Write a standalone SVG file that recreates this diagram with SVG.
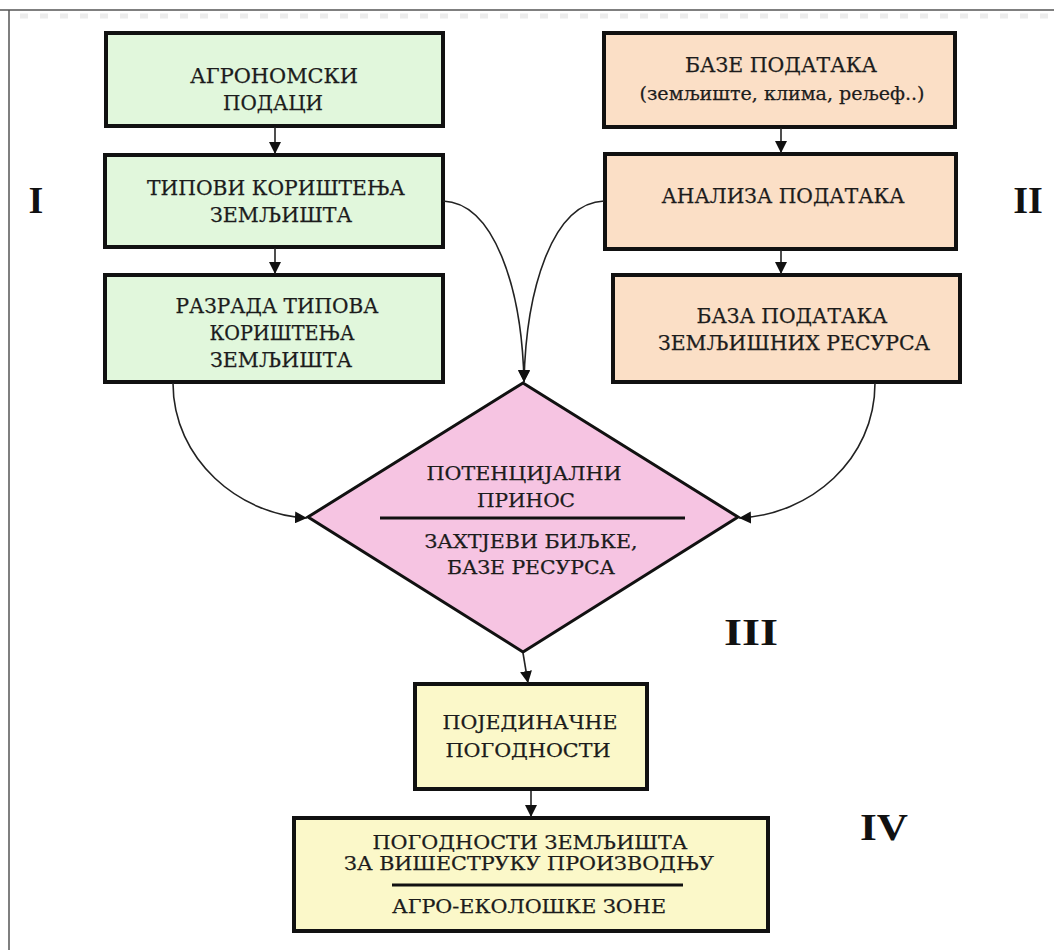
<svg xmlns="http://www.w3.org/2000/svg" width="1054" height="950" viewBox="0 0 1054 950">
  <style>
    .box { stroke: #111; stroke-width: 4; }
    .green { fill: #e1f7dc; }
    .peach { fill: #fbdfc6; }
    .pink { fill: #f6c4e2; stroke: #111; stroke-width: 3; }
    .yellow { fill: #fbf8c9; }
    .t { font-family: "DejaVu Serif", "Liberation Serif", "Noto Serif", serif; font-size: 20.5px; fill: #1c1c1c; stroke: #1c1c1c; stroke-width: 0.25; text-anchor: middle; }
    .ts { font-size: 18.5px; }
    .roman { font-family: "Liberation Serif", "Times New Roman", serif; font-size: 38px; font-weight: bold; fill: #111; text-anchor: middle; }
    .conn { fill: none; stroke: #222; stroke-width: 1.6; marker-end: url(#arrow); }
    .rule { stroke: #111; stroke-width: 3; }
  </style>
  <defs>
    <marker id="arrow" viewBox="0 0 10 10" refX="10" refY="5" markerWidth="12" markerHeight="12" markerUnits="userSpaceOnUse" orient="auto">
      <path d="M0,0 L10,5 L0,10 z" fill="#111"/>
    </marker>
  </defs>

  <rect x="0" y="0" width="1054" height="950" fill="#fff"/>

  <!-- page frame -->
  <g id="frame">
    <line x1="0" y1="10" x2="1054" y2="10" stroke="#555" stroke-width="1.5"/>
    <line x1="9" y1="10" x2="9" y2="950" stroke="#555" stroke-width="1.5"/>
    <line x1="20" y1="16" x2="1054" y2="16" stroke="#ececec" stroke-width="5" stroke-dasharray="8 12"/>
  </g>

  <!-- left column -->
  <g id="agro-data">
    <rect class="box green" x="106" y="33" width="337" height="93"/>
    <text class="t" x="274" y="83" textLength="168" lengthAdjust="spacingAndGlyphs">АГРОНОМСКИ</text>
    <text class="t" x="273" y="110" textLength="100" lengthAdjust="spacingAndGlyphs">ПОДАЦИ</text>
  </g>
  <g id="land-use-types">
    <rect class="box green" x="105" y="155" width="338" height="92"/>
    <text class="t" x="276" y="195" textLength="258" lengthAdjust="spacingAndGlyphs">ТИПОВИ КОРИШТЕЊА</text>
    <text class="t" x="281" y="222" textLength="142" lengthAdjust="spacingAndGlyphs">ЗЕМЉИШТА</text>
  </g>
  <g id="land-use-detail">
    <rect class="box green" x="105" y="275" width="338" height="107"/>
    <text class="t" x="277" y="313" textLength="203" lengthAdjust="spacingAndGlyphs">РАЗРАДА ТИПОВА</text>
    <text class="t" x="282" y="340" textLength="145" lengthAdjust="spacingAndGlyphs">КОРИШТЕЊА</text>
    <text class="t" x="281" y="367" textLength="142" lengthAdjust="spacingAndGlyphs">ЗЕМЉИШТА</text>
  </g>

  <!-- right column -->
  <g id="databases">
    <rect class="box peach" x="604" y="33" width="351" height="94"/>
    <text class="t" x="781" y="72" textLength="192" lengthAdjust="spacingAndGlyphs">БАЗЕ ПОДАТАКА</text>
    <text class="t ts" x="782" y="100" textLength="285" lengthAdjust="spacingAndGlyphs">(земљиште, клима, рељеф..)</text>
  </g>
  <g id="data-analysis">
    <rect class="box peach" x="605" y="154" width="351" height="95"/>
    <text class="t" x="783" y="203" textLength="243" lengthAdjust="spacingAndGlyphs">АНАЛИЗА ПОДАТАКА</text>
  </g>
  <g id="land-resources-db">
    <rect class="box peach" x="613" y="275" width="347" height="107"/>
    <text class="t" x="792" y="323" textLength="191" lengthAdjust="spacingAndGlyphs">БАЗА ПОДАТАКА</text>
    <text class="t" x="794" y="350" textLength="272" lengthAdjust="spacingAndGlyphs">ЗЕМЉИШНИХ РЕСУРСА</text>
  </g>

  <!-- evaluation diamond -->
  <g id="yield-diamond">
    <polygon class="pink" points="523,383 738,517 523,652 308,517"/>
    <text class="t ts" x="524" y="480" textLength="195" lengthAdjust="spacingAndGlyphs">ПОТЕНЦИЈАЛНИ</text>
    <text class="t ts" x="526" y="507" textLength="98" lengthAdjust="spacingAndGlyphs">ПРИНОС</text>
    <line class="rule" x1="380" y1="518" x2="685" y2="518"/>
    <text class="t ts" x="531" y="548" textLength="213" lengthAdjust="spacingAndGlyphs">ЗАХТЈЕВИ БИЉКЕ,</text>
    <text class="t ts" x="531" y="574" textLength="168" lengthAdjust="spacingAndGlyphs">БАЗЕ РЕСУРСА</text>
  </g>

  <!-- results -->
  <g id="single-suitability">
    <rect class="box yellow" x="415" y="684" width="232" height="105"/>
    <text class="t ts" x="530" y="729" textLength="175" lengthAdjust="spacingAndGlyphs">ПОЈЕДИНАЧНЕ</text>
    <text class="t ts" x="528" y="757" textLength="165" lengthAdjust="spacingAndGlyphs">ПОГОДНОСТИ</text>
  </g>
  <g id="multi-suitability">
    <rect class="box yellow" x="294" y="818" width="474" height="113"/>
    <text class="t ts" x="530" y="849" textLength="315" lengthAdjust="spacingAndGlyphs">ПОГОДНОСТИ ЗЕМЉИШТА</text>
    <text class="t ts" x="529" y="870" textLength="370" lengthAdjust="spacingAndGlyphs">ЗА ВИШЕСТРУКУ ПРОИЗВОДЊУ</text>
    <line class="rule" x1="392" y1="885" x2="683" y2="885"/>
    <text class="t ts" x="529" y="913" textLength="274" lengthAdjust="spacingAndGlyphs">АГРО-ЕКОЛОШКЕ ЗОНЕ</text>
  </g>

  <!-- stage numerals -->
  <g id="stage-labels">
    <text class="roman" x="36" y="213">I</text>
    <text class="roman" x="1028" y="213">II</text>
    <text class="roman" x="751" y="645" textLength="54" lengthAdjust="spacingAndGlyphs">III</text>
    <text class="roman" x="884" y="840" textLength="48" lengthAdjust="spacingAndGlyphs">IV</text>
  </g>

  <!-- connectors -->
  <g id="connectors">
    <path class="conn" d="M275,127 L275,154"/>
    <path class="conn" d="M275,248 L275,274"/>
    <path class="conn" d="M781,128 L781,153"/>
    <path class="conn" d="M781,250 L781,274"/>
    <path class="conn" d="M443,201 C495,203 522,290 524,382"/>
    <path class="conn" d="M604,201 C552,203 526,290 524,382"/>
    <path class="conn" d="M173,383 C173,460 240,515 307,518"/>
    <path class="conn" d="M875,383 C875,460 810,515 739,518"/>
    <path class="conn" d="M523,653 L528,683"/>
    <path class="conn" d="M531,791 L531,817"/>
  </g>
</svg>
